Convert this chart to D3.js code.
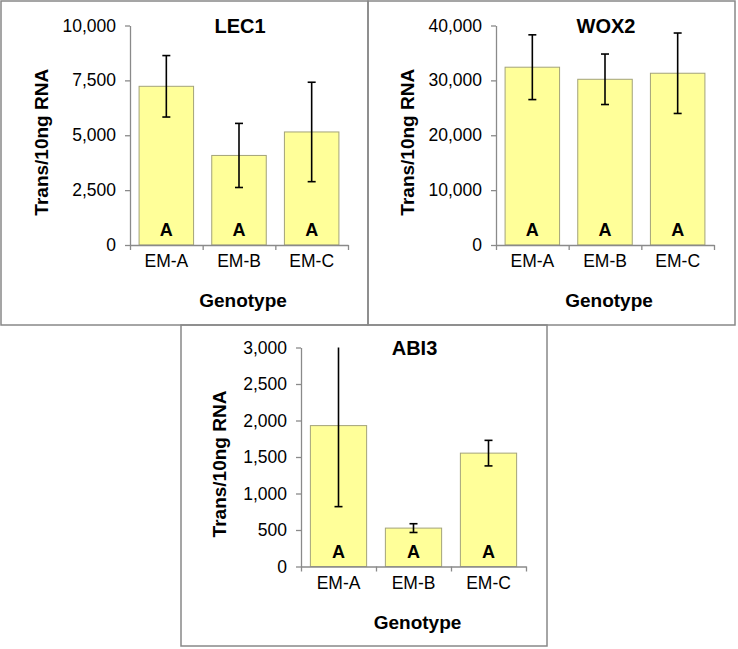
<!DOCTYPE html>
<html>
<head>
<meta charset="utf-8">
<script src="https://cdn.jsdelivr.net/npm/d3@7"></script>
<style>
  body { margin: 0; background: #fff; }
  svg { display: block; font-family: "Liberation Sans", Arial, sans-serif; }
</style>
</head>
<body>
<svg id="chart"></svg>
<script>
// Data
const genotypes = ["EM-A", "EM-B", "EM-C"];
const groupLetters = ["A", "A", "A"];

const lec1Values = [7230, 4080, 5150];
const lec1Errors = [1400, 1460, 2265];
const lec1Ticks = [0, 2500, 5000, 7500, 10000];

const wox2Values = [32400, 30200, 31300];
const wox2Errors = [5900, 4600, 7330];
const wox2Ticks = [0, 10000, 20000, 30000, 40000];

const abi3Values = [1930, 526, 1553];
const abi3Errors = [1110, 60, 175];
const abi3Ticks = [0, 500, 1000, 1500, 2000, 2500, 3000];

const width = 738;
const height = 649;

const svg = d3.select("#chart")
  .attr("width", width)
  .attr("height", height);

// Panel layout (box = frame, plot = axis area)
const panels = [
  { title: "LEC1", values: lec1Values, errors: lec1Errors, ticks: lec1Ticks,
    box: [1, 1, 367, 324], plot: { x0: 130, x1: 348, y0: 245, y1: 25.5 }, yTitleX: 48 },
  { title: "WOX2", values: wox2Values, errors: wox2Errors, ticks: wox2Ticks,
    box: [368, 1, 367, 324], plot: { x0: 496, x1: 714, y0: 245, y1: 25.5 }, yTitleX: 414 },
  { title: "ABI3", values: abi3Values, errors: abi3Errors, ticks: abi3Ticks,
    box: [181, 325, 366, 321], plot: { x0: 301, x1: 526, y0: 566.5, y1: 347.5 }, yTitleX: 226 }
];

const axisColor = "#8a8a8a";

panels.forEach((p) => {
  // Frame
  svg.append("rect")
    .attr("x", p.box[0])
    .attr("y", p.box[1])
    .attr("width", p.box[2])
    .attr("height", p.box[3])
    .attr("fill", "none")
    .attr("stroke", "#888")
    .attr("stroke-width", 1.5);

  const yMax = d3.max(p.ticks);

  const x = d3.scaleBand()
    .domain(genotypes)
    .range([p.plot.x0, p.plot.x1])
    .paddingInner(0.25)
    .paddingOuter(0.125);

  const xEdges = d3.scaleLinear()
    .domain([0, genotypes.length])
    .range([p.plot.x0, p.plot.x1]);

  const y = d3.scaleLinear()
    .domain([0, yMax])
    .range([p.plot.y0, p.plot.y1]);

  const g = svg.append("g");

  // Bars
  g.selectAll(".bar")
    .data(p.values)
    .join("rect")
    .attr("class", "bar")
    .attr("x", (d, i) => x(genotypes[i]))
    .attr("y", (d) => y(d))
    .attr("width", x.bandwidth())
    .attr("height", (d) => y(0) - y(d))
    .attr("fill", "#ffff99")
    .attr("stroke", "#a3a37a")
    .attr("stroke-width", 1);

  // Y axis
  const yAxis = g.append("g")
    .attr("transform", `translate(${p.plot.x0},0)`)
    .call(d3.axisLeft(y)
      .tickValues(p.ticks)
      .tickFormat(d3.format(","))
      .tickSize(5)
      .tickSizeOuter(0)
      .tickPadding(9));
  yAxis.selectAll("path, line").attr("stroke", axisColor).attr("stroke-width", 1.3);
  yAxis.selectAll("text").attr("font-size", 17.5).attr("fill", "#000")
    .attr("font-family", "Liberation Sans, Arial, sans-serif");

  // X axis: boundary ticks
  const xTickAxis = g.append("g")
    .attr("transform", `translate(0,${p.plot.y0})`)
    .call(d3.axisBottom(xEdges)
      .tickValues(d3.range(genotypes.length + 1))
      .tickFormat("")
      .tickSize(5)
      .tickSizeOuter(0));
  xTickAxis.selectAll("path, line").attr("stroke", axisColor).attr("stroke-width", 1.3);

  // X axis: category labels
  const xLabelAxis = g.append("g")
    .attr("transform", `translate(0,${p.plot.y0})`)
    .call(d3.axisBottom(x).tickSize(0).tickPadding(10));
  xLabelAxis.select(".domain").remove();
  xLabelAxis.selectAll("text").attr("font-size", 17.5).attr("fill", "#000")
    .attr("font-family", "Liberation Sans, Arial, sans-serif");

  // Error bars
  const capW = 8;
  p.values.forEach((v, i) => {
    const cx = x(genotypes[i]) + x.bandwidth() / 2;
    const top = Math.min(v + p.errors[i], yMax);
    const bottom = Math.max(v - p.errors[i], 0);
    g.append("line")
      .attr("x1", cx).attr("x2", cx)
      .attr("y1", y(top)).attr("y2", y(bottom))
      .attr("stroke", "#000").attr("stroke-width", 1.6);
    if (v + p.errors[i] <= yMax) {
      g.append("line")
        .attr("x1", cx - capW / 2).attr("x2", cx + capW / 2)
        .attr("y1", y(top)).attr("y2", y(top))
        .attr("stroke", "#000").attr("stroke-width", 1.6);
    }
    g.append("line")
      .attr("x1", cx - capW / 2).attr("x2", cx + capW / 2)
      .attr("y1", y(bottom)).attr("y2", y(bottom))
      .attr("stroke", "#000").attr("stroke-width", 1.6);
  });

  // Group letters inside bars
  g.selectAll(".letter")
    .data(groupLetters)
    .join("text")
    .attr("class", "letter")
    .attr("x", (d, i) => x(genotypes[i]) + x.bandwidth() / 2)
    .attr("y", p.plot.y0 - 9)
    .attr("text-anchor", "middle")
    .attr("font-size", 18)
    .attr("font-weight", "bold")
    .text((d) => d);

  const cx = (p.plot.x0 + p.plot.x1) / 2;

  // Title
  g.append("text")
    .attr("x", cx + 1)
    .attr("y", p.plot.y1 + 7)
    .attr("text-anchor", "middle")
    .attr("font-size", 20)
    .attr("font-weight", "bold")
    .text(p.title);

  // X axis title
  g.append("text")
    .attr("x", cx + 4)
    .attr("y", p.plot.y0 + 62)
    .attr("text-anchor", "middle")
    .attr("font-size", 19)
    .attr("font-weight", "bold")
    .text("Genotype");

  // Y axis title
  g.append("text")
    .attr("transform", `translate(${p.yTitleX},${(p.plot.y0 + p.plot.y1) / 2 + 7}) rotate(-90)`)
    .attr("text-anchor", "middle")
    .attr("font-size", 19)
    .attr("font-weight", "bold")
    .text("Trans/10ng RNA");
});
</script>
</body>
</html>
